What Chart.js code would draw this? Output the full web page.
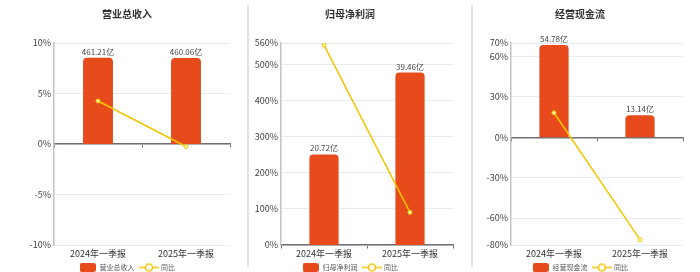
<!DOCTYPE html>
<html>
<head>
<meta charset="utf-8">
<script src="https://cdn.jsdelivr.net/npm/chart.js@4/dist/chart.umd.min.js"></script>
<style>
  html, body { margin: 0; padding: 0; background: #ffffff; }
  #wrap { position: relative; width: 700px; height: 272px; overflow: hidden; background: #fff; }
  canvas { position: absolute; top: 0; }
  .divider { position: absolute; top: 5px; width: 2px; height: 262px; background: #e2e2e2; }
</style>
</head>
<body>
<div id="wrap">
  <canvas id="c1" width="254" height="272" style="left:0px"></canvas>
  <canvas id="c2" width="220" height="272" style="left:240px"></canvas>
  <canvas id="c3" width="220" height="272" style="left:470px"></canvas>
  <div class="divider" style="left:247px"></div>
  <div class="divider" style="left:471px"></div>
</div>
<script>
// ---------- data ----------
const categories = ['2024年一季报', '2025年一季报'];

const revenueTitle = '营业总收入';
const revenueValues = [461.21, 460.06];   // 亿
const revenueYoY = [4.26, -0.25];         // %
const revenueTicks = [-10, -5, 0, 5, 10];

const profitTitle = '归母净利润';
const profitValues = [20.72, 39.46];      // 亿
const profitYoY = [554, 90.44];           // %
const profitTicks = [0, 100, 200, 300, 400, 500, 560];

const cashTitle = '经营现金流';
const cashValues = [54.78, 13.14];        // 亿
const cashYoY = [18.2, -76.01];           // %
const cashTicks = [-80, -60, -30, 0, 30, 60, 70];

const yoyLabel = '同比';

// ---------- styles ----------
const FONT = '"Noto Sans CJK SC", "Noto Sans", sans-serif';
const BAR_COLOR = '#e84b1b';
const LINE_COLOR = '#f2c500';

function makeRectIcon() {
  const c = document.createElement('canvas');
  c.width = 16; c.height = 9;
  const g = c.getContext('2d');
  g.fillStyle = BAR_COLOR;
  g.beginPath();
  g.roundRect(0, 0, 16, 9, 2);
  g.fill();
  return c;
}
function makeLineIcon() {
  const c = document.createElement('canvas');
  c.width = 20; c.height = 10;
  const g = c.getContext('2d');
  g.strokeStyle = LINE_COLOR;
  g.lineWidth = 1.5;
  g.beginPath(); g.moveTo(0, 5); g.lineTo(20, 5); g.stroke();
  g.fillStyle = '#fff';
  g.beginPath(); g.arc(10, 5, 3.5, 0, Math.PI * 2); g.fill(); g.stroke();
  return c;
}
const rectIcon = makeRectIcon();
const lineIcon = makeLineIcon();

const barLabelPlugin = {
  id: 'barLabels',
  afterDatasetsDraw(chart) {
    const ctx = chart.ctx;
    const meta = chart.getDatasetMeta(0);
    const ds = chart.data.datasets[0];
    ctx.save();
    ctx.font = '8px ' + FONT;
    ctx.fillStyle = '#444';
    ctx.textAlign = 'center';
    ctx.textBaseline = 'bottom';
    meta.data.forEach((bar, i) => {
      ctx.fillText(ds.data[i].toFixed(2) + '亿', bar.x, bar.y - 2);
    });
    ctx.restore();
  }
};

function makePanel(id, title, values, yoy, ticks, barMin, barMax, yWidth, sidePad) {
  new Chart(document.getElementById(id), {
    type: 'bar',
    data: {
      labels: categories,
      datasets: [
        {
          type: 'bar',
          label: title,
          data: values,
          yAxisID: 'yb',
          backgroundColor: BAR_COLOR,
          borderWidth: 0,
          borderRadius: { topLeft: 4, topRight: 4, bottomLeft: 0, bottomRight: 0 },
          borderSkipped: false,
          barPercentage: 0.34,
          categoryPercentage: 1,
          order: 2
        },
        {
          type: 'line',
          label: yoyLabel,
          data: yoy,
          yAxisID: 'y',
          borderColor: LINE_COLOR,
          borderWidth: 1.5,
          pointRadius: 2,
          pointBorderWidth: 1,
          pointBackgroundColor: '#fff6b0',
          pointBorderColor: LINE_COLOR,
          tension: 0,
          order: 1
        }
      ]
    },
    options: {
      responsive: false,
      animation: false,
      devicePixelRatio: 1,
      layout: { padding: { left: sidePad, right: sidePad, top: 0, bottom: 0 } },
      plugins: {
        tooltip: { enabled: false },
        title: {
          display: true,
          text: title,
          color: '#333',
          font: { family: FONT, size: 10, weight: 'bold', lineHeight: 1.2 },
          padding: { top: 8, bottom: 23 }
        },
        legend: {
          position: 'bottom',
          maxHeight: 14,
          labels: {
            usePointStyle: true,
            pointStyleWidth: 17,
            padding: 6,
            color: '#555',
            font: { family: FONT, size: 7 },
            generateLabels(chart) {
              return chart.data.datasets.map((ds, i) => ({
                text: ds.label,
                pointStyle: i === 0 ? rectIcon : lineIcon,
                datasetIndex: i,
                hidden: false,
                fontColor: '#555',
                lineWidth: 0,
                strokeStyle: 'rgba(0,0,0,0)',
                fillStyle: 'rgba(0,0,0,0)'
              }));
            }
          }
        }
      },
      scales: {
        x: {
          type: 'category',
          position: 'bottom',
          offset: true,
          grid: { display: false, drawTicks: false },
          border: { display: false },
          ticks: { color: '#333', font: { family: FONT, size: 9 }, padding: 3, maxRotation: 0, autoSkip: false },
          afterFit(scale) { scale.height = 13; }
        },
        x0: {
          type: 'category',
          axis: 'x',
          position: { y: 0 },
          offset: true,
          grid: { display: true, offset: true, drawOnChartArea: false, drawTicks: true, tickLength: 3, color: '#6e7079', lineWidth: 1 },
          border: { display: true, color: '#6e7079', width: 1.5 },
          ticks: { display: false },
          afterFit(scale) { scale.height = 0; }
        },
        y: {
          type: 'linear',
          position: 'left',
          min: ticks[0],
          max: ticks[ticks.length - 1],
          afterBuildTicks(scale) { scale.ticks = ticks.map(v => ({ value: v })); },
          grid: { color: '#e6eaf3', lineWidth: 1, drawTicks: false },
          border: { display: true, color: '#bfc3cb', width: 1.5 },
          ticks: {
            color: '#444',
            font: { family: FONT, size: 9 },
            padding: 3,
            callback: v => v + '%'
          },
          afterFit(scale) { scale.width = yWidth; }
        },
        yb: {
          type: 'linear',
          display: false,
          min: barMin,
          max: barMax
        }
      }
    },
    plugins: [barLabelPlugin]
  });
}

makePanel('c1', revenueTitle, revenueValues, revenueYoY, revenueTicks, -540, 540, 30, 24);
makePanel('c2', profitTitle, profitValues, profitYoY, profitTicks, 0, 46.2, 34, 7);
makePanel('c3', cashTitle, cashValues, cashYoY, cashTicks, -64, 56, 34, 7);
</script>
</body>
</html>
